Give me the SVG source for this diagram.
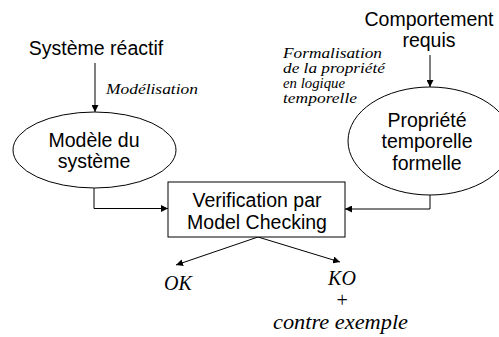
<svg xmlns="http://www.w3.org/2000/svg" width="499" height="337" viewBox="0 0 499 337">
<style>
.s{font-family:"Liberation Sans",Arial,sans-serif;font-size:19.5px;fill:#000}
.i{font-family:"Liberation Serif","Times New Roman",serif;font-style:italic;fill:#000}
.f{font-size:15px}
.n{fill:#fff;stroke:#000;stroke-width:1}
.c{fill:none;stroke:#000;stroke-width:1}
</style>
<defs>
<marker id="ah" viewBox="0 0 10 10" refX="10" refY="5" markerWidth="7" markerHeight="7" markerUnits="userSpaceOnUse" orient="auto">
<path d="M0,0 L10,5 L0,10 z" fill="#000"/>
</marker>
</defs>
<rect width="499" height="337" fill="#fff"/>
<g id="connectors">
<path class="c" d="M95,63 L95,112" marker-end="url(#ah)"/>
<path class="c" d="M430,55 L430,87" marker-end="url(#ah)"/>
<path class="c" d="M94,188 L94,208.5 L168,208.5" marker-end="url(#ah)"/>
<path class="c" d="M430,195 L430,209 L345,209" marker-end="url(#ah)"/>
<path class="c" d="M258,237 L176,265" marker-end="url(#ah)"/>
<path class="c" d="M258,237 L340,262" marker-end="url(#ah)"/>
</g>
<g id="systeme-reactif">
<text class="s" x="96" y="55" text-anchor="middle">Système réactif</text>
</g>
<g id="label-modelisation">
<text class="i f" x="106" y="94" textLength="92" lengthAdjust="spacingAndGlyphs">Modélisation</text>
</g>
<g id="modele">
<ellipse class="n" cx="94.5" cy="150" rx="81.5" ry="38"/>
<text class="s" x="94" y="147" text-anchor="middle">Modèle du</text>
<text class="s" x="94" y="168" text-anchor="middle">système</text>
</g>
<g id="comportement">
<text class="s" x="429" y="26" text-anchor="middle">Comportement</text>
<text class="s" x="429" y="47" text-anchor="middle">requis</text>
</g>
<g id="label-formalisation">
<text class="i f" x="283" y="58" textLength="99" lengthAdjust="spacingAndGlyphs">Formalisation</text>
<text class="i f" x="283" y="73" textLength="102" lengthAdjust="spacingAndGlyphs">de la propriété</text>
<text class="i f" x="283" y="88" textLength="62" lengthAdjust="spacingAndGlyphs">en logique</text>
<text class="i f" x="283" y="103" textLength="74" lengthAdjust="spacingAndGlyphs">temporelle</text>
</g>
<g id="propriete">
<ellipse class="n" cx="430" cy="141" rx="82" ry="54"/>
<text class="s" x="427" y="127" text-anchor="middle">Propriété</text>
<text class="s" x="427" y="148" text-anchor="middle">temporelle</text>
<text class="s" x="427" y="170" text-anchor="middle">formelle</text>
</g>
<g id="verification">
<rect class="n" x="168" y="182" width="177" height="55"/>
<text class="s" x="257" y="207" text-anchor="middle">Verification par</text>
<text class="s" x="257" y="229" text-anchor="middle">Model Checking</text>
</g>
<g id="ok">
<text class="i" x="178" y="290" font-size="20" text-anchor="middle">OK</text>
</g>
<g id="ko">
<text class="i" x="342" y="285" font-size="20" text-anchor="middle">KO</text>
<text class="i" x="342" y="307" font-size="20" text-anchor="middle">+</text>
<text class="i" x="273" y="329" font-size="20" textLength="135" lengthAdjust="spacingAndGlyphs">contre exemple</text>
</g>
</svg>
